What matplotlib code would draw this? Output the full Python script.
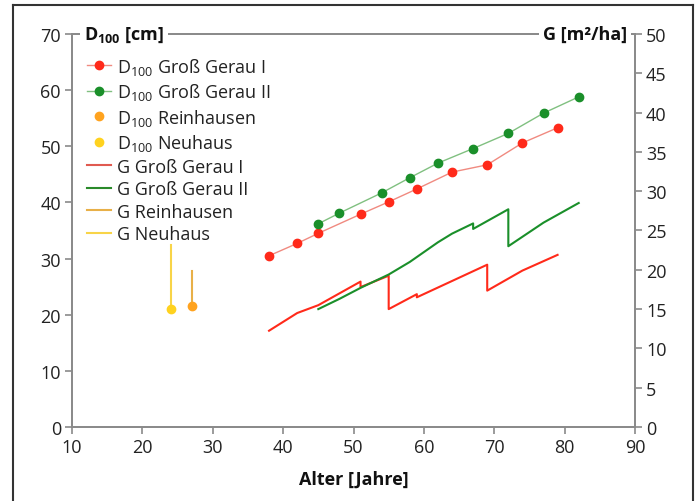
import matplotlib
matplotlib.use("Agg")
import matplotlib.pyplot as plt
from matplotlib.lines import Line2D

plt.rcParams['font.family'] = ['Open Sans', 'DejaVu Sans']
plt.rcParams['mathtext.default'] = 'regular'

# D100 data
gg1_age = [38, 42, 45, 51, 55, 59, 64, 69, 74, 79]
gg1_d = [30.5, 32.7, 34.5, 37.9, 40.1, 42.4, 45.4, 46.7, 50.6, 53.3]
gg2_age = [45, 48, 54, 58, 62, 67, 72, 77, 82]
gg2_d = [36.2, 38.1, 41.7, 44.4, 47.0, 49.6, 52.3, 55.9, 58.8]
rh_age = [27]
rh_d = [21.6]
nh_age = [24]
nh_d = [21.1]

# G (basal area) data
g1_age = [38, 42, 45, 51, 51, 55, 55, 59, 59, 69, 69, 74, 79]
g1_g = [12.25, 14.5, 15.5, 18.5, 17.8, 19.25, 15.0, 16.9, 16.5, 20.65, 17.35, 19.9, 21.9]
g2_age = [45, 48, 51, 55, 58, 62, 64, 67, 67, 72, 72, 77, 82]
g2_g = [15.0, 16.3, 17.7, 19.4, 21.0, 23.5, 24.6, 25.9, 25.2, 27.7, 23.0, 26.0, 28.5]
grh_age = [27, 27]
grh_g = [19.8, 15.4]
gnh_age = [24, 24]
gnh_g = [23.1, 15.1]

RED = '#ff2a1a'
GREEN = '#1a8f2a'
ORANGE = '#ffa31f'
YELLOW = '#ffd21f'
FS = 13

fig = plt.figure(figsize=(6.97, 5.02), dpi=100)
ax = fig.add_axes([72/697, 1-428/502, (635-72)/697, (428-35)/502])
ax2 = ax.twinx()

ax.set_xlim(10, 90)
ax.set_ylim(0, 70)
ax2.set_ylim(0, 50)
ax.set_xticks(range(10, 91, 10))
ax.set_yticks(range(0, 71, 10))
ax2.set_yticks(range(0, 51, 5))

spc = '#8a8a8a'
for a in (ax, ax2):
    for s in a.spines.values():
        s.set_color(spc)
        s.set_linewidth(1.3)
    a.tick_params(colors=spc, labelcolor='#222222', labelsize=FS, length=5, width=1.2, pad=3)

ax.set_zorder(ax2.get_zorder() + 1)
ax.patch.set_visible(False)

# G lines (right axis)
ax2.plot(g1_age, g1_g, color=RED, lw=1.5)
ax2.plot(g2_age, g2_g, color=GREEN, lw=1.5)
ax2.plot(grh_age, grh_g, color='#e8b048', lw=1.5)
ax2.plot(gnh_age, gnh_g, color='#f8d448', lw=1.5)

# D100 (left axis)
ax.plot(gg1_age, gg1_d, color='#f08a80', marker='o', ms=6, lw=1, mfc=RED, mec=RED)
ax.plot(gg2_age, gg2_d, color='#80c080', marker='o', ms=6, lw=1, mfc=GREEN, mec=GREEN)
ax.plot(rh_age, rh_d, ls='none', marker='o', ms=6, color=ORANGE)
ax.plot(nh_age, nh_d, ls='none', marker='o', ms=6, color=YELLOW)

handles = [
    Line2D([], [], color='#f08a80', lw=1, marker='o', ms=6, mfc=RED, mec=RED),
    Line2D([], [], color='#80c080', lw=1, marker='o', ms=6, mfc=GREEN, mec=GREEN),
    Line2D([], [], ls='none', marker='o', ms=6, color=ORANGE),
    Line2D([], [], ls='none', marker='o', ms=6, color=YELLOW),
    Line2D([], [], color='#e05a50', lw=1.5),
    Line2D([], [], color='#2a8a2a', lw=1.5),
    Line2D([], [], color='#e8b048', lw=1.5),
    Line2D([], [], color='#f8d448', lw=1.5),
]
labels = ['D$_{100}$ Groß Gerau I', 'D$_{100}$ Groß Gerau II', 'D$_{100}$ Reinhausen',
          'D$_{100}$ Neuhaus', 'G Groß Gerau I', 'G Groß Gerau II', 'G Reinhausen', 'G Neuhaus']
leg = ax.legend(handles, labels, loc='upper left', bbox_to_anchor=(15/563, 0.945),
                frameon=False, fontsize=FS, handlelength=1.33, handletextpad=0.33,
                labelspacing=0.25, borderpad=0.0, borderaxespad=0.0)
for t in leg.get_texts():
    t.set_color('#222222')

# axis titles on top spine
fig.text(84/697, 1-35/502, 'D$_{100}$ [cm]', fontsize=FS, fontweight='bold', color='#111111',
         ha='left', va='center', bbox=dict(facecolor='white', edgecolor='none', pad=3))
fig.text(627/697, 1-35/502, 'G [m²/ha]', fontsize=FS, fontweight='bold', color='#111111',
         ha='right', va='center', bbox=dict(facecolor='white', edgecolor='none', pad=3))
ax.set_xlabel('Alter [Jahre]', fontsize=FS, fontweight='bold', color='#111111', labelpad=10)

# figure frame
fx0, fx1, fy1 = 13/697, 693/697, 1-6/502
for xs, ys in [([fx0, fx0], [0, fy1]), ([fx0, fx1], [fy1, fy1]), ([fx1, fx1], [fy1, 0])]:
    fig.add_artist(Line2D(xs, ys, color='#333333', lw=1.5, transform=fig.transFigure))

fig.savefig('out.png', dpi=100)
